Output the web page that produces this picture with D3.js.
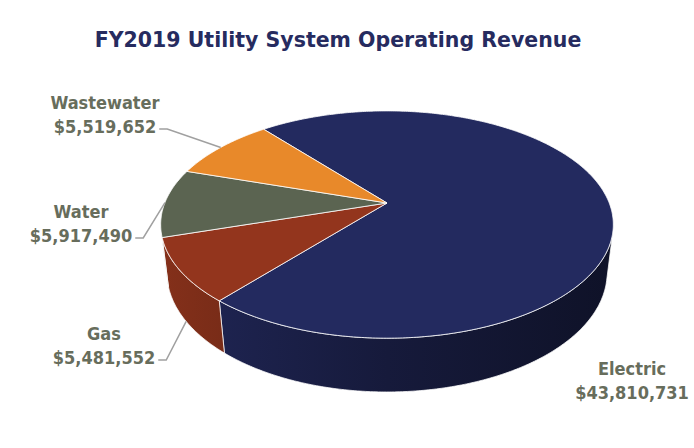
<!DOCTYPE html>
<html>
<head>
<meta charset="utf-8">
<style>
    body { margin: 0; background: #fff; }
    svg { display: block; }
    .title { font-family: "DejaVu Sans", sans-serif; font-weight: bold; fill: #262b5f; }
    .lbl { font-family: "Liberation Sans Narrow", "DejaVu Sans Condensed", sans-serif; font-weight: bold; fill: #676d5c; }
</style>
</head>
<body>
<svg width="694" height="448"></svg>
<script src="https://d3js.org/d3.v7.min.js"></script>
<script>
    // data
    const categories = ["Electric", "Gas", "Water", "Wastewater"];
    const revenue = [43810731, 5481552, 5917490, 5519652];
    const sliceColors = ["#232a5f", "#93351d", "#5b6451", "#e8892a"];

    const width = 694, height = 448;
    const svg = d3.select("svg");

    // perspective set-up for the tilted disc (unit radius)
    const cx = 387, cy = 203;
    const focal = 1020, dist = 4.59;
    const sinP = 0.493, cosP = 0.870;
    const depth = 0.252;

    function proj(theta, y) {
        const X = Math.sin(theta), Z = Math.cos(theta);
        const yc = y * cosP + Z * sinP;
        const zc = -y * sinP + Z * cosP + dist;
        return [cx + focal * X / zc, cy - focal * yc / zc];
    }
    function arcPts(a0, a1, y) {
        const n = Math.max(2, Math.ceil(Math.abs(a1 - a0) / 0.01));
        return d3.range(n + 1).map(i => proj(a0 + (a1 - a0) * i / n, y));
    }

    const data = categories.map((c, i) => ({ name: c, value: revenue[i], color: sliceColors[i] }));
    const start = -39.5 * Math.PI / 180;
    const pie = d3.pie().sort(null).value(d => d.value)
        .startAngle(start).endAngle(start + 2 * Math.PI);
    const arcs = pie(data);

    const line = d3.line().curve(d3.curveLinear);

    // side visible where the wall faces the viewer
    const vis0 = Math.acos(-1 / (dist * cosP));
    const vis1 = 2 * Math.PI - vis0;

    const defs = svg.append("defs");
    arcs.forEach((d, i) => {
        const base = d3.rgb(d.data.color);
        const g = defs.append("linearGradient")
            .attr("id", "side" + i)
            .attr("gradientUnits", "userSpaceOnUse")
            .attr("x1", cx - 225).attr("x2", cx + 225)
            .attr("y1", 0).attr("y2", 0);
        [[0, 0.9], [0.5, 0.62], [1, 0.42]].forEach(s => {
            g.append("stop").attr("offset", s[0])
                .attr("stop-color", d3.rgb(base.r * s[1], base.g * s[1], base.b * s[1]));
        });
    });

    // sides
    svg.append("g").selectAll("path")
        .data(arcs.filter(d => Math.min(d.endAngle, vis1) > Math.max(d.startAngle, vis0)))
        .join("path")
        .attr("d", d => {
            const s0 = Math.max(d.startAngle, vis0), s1 = Math.min(d.endAngle, vis1);
            return line(arcPts(s0, s1, 0).concat(arcPts(s1, s0, -depth))) + "Z";
        })
        .style("fill", d => "url(#side" + d.index + ")")
        .style("stroke", "#fff")
        .style("stroke-opacity", 0.75)
        .style("stroke-width", 1);

    // top faces
    svg.append("g").selectAll("path")
        .data(arcs)
        .join("path")
        .attr("d", d => line([[cx, cy]].concat(arcPts(d.startAngle, d.endAngle, 0))) + "Z")
        .style("fill", d => d.data.color)
        .style("stroke", "#fff")
        .style("stroke-opacity", 0.8)
        .style("stroke-width", 1)
        .style("stroke-linejoin", "round");

    // title
    svg.append("text")
        .attr("class", "title")
        .attr("x", 338).attr("y", 47)
        .attr("text-anchor", "middle")
        .style("font-size", "20.5px")
        .text("FY2019 Utility System Operating Revenue");

    // labels
    const fmt = d3.format("$,");
    const labelPos = { Electric: [632, 375], Gas: [104, 340], Water: [81, 218], Wastewater: [105, 109] };
    const labels = svg.append("g");
    arcs.forEach(d => {
        const p = labelPos[d.data.name];
        const t = labels.append("text")
            .attr("class", "lbl")
            .attr("text-anchor", "middle")
            .style("font-size", "18px");
        t.append("tspan").attr("x", p[0]).attr("y", p[1]).text(d.data.name);
        const v = t.append("tspan").attr("x", p[0]).attr("y", p[1] + 24).text(fmt(d.data.value));

        if (d.data.name === "Electric") return;
        const bb = v.node().getBBox();
        const mid = (d.startAngle + d.endAngle) / 2;
        const target = d.data.name === "Gas" ? proj(mid, -depth) : proj(mid, 0);
        const y0 = p[1] + 24 - 4;
        labels.append("path")
            .attr("d", line([[bb.x + bb.width + 3, y0], [bb.x + bb.width + 11, y0], target]))
            .style("fill", "none")
            .style("stroke", "#a0a0a0")
            .style("stroke-width", 1.5);
    });
</script>
</body>
</html>
